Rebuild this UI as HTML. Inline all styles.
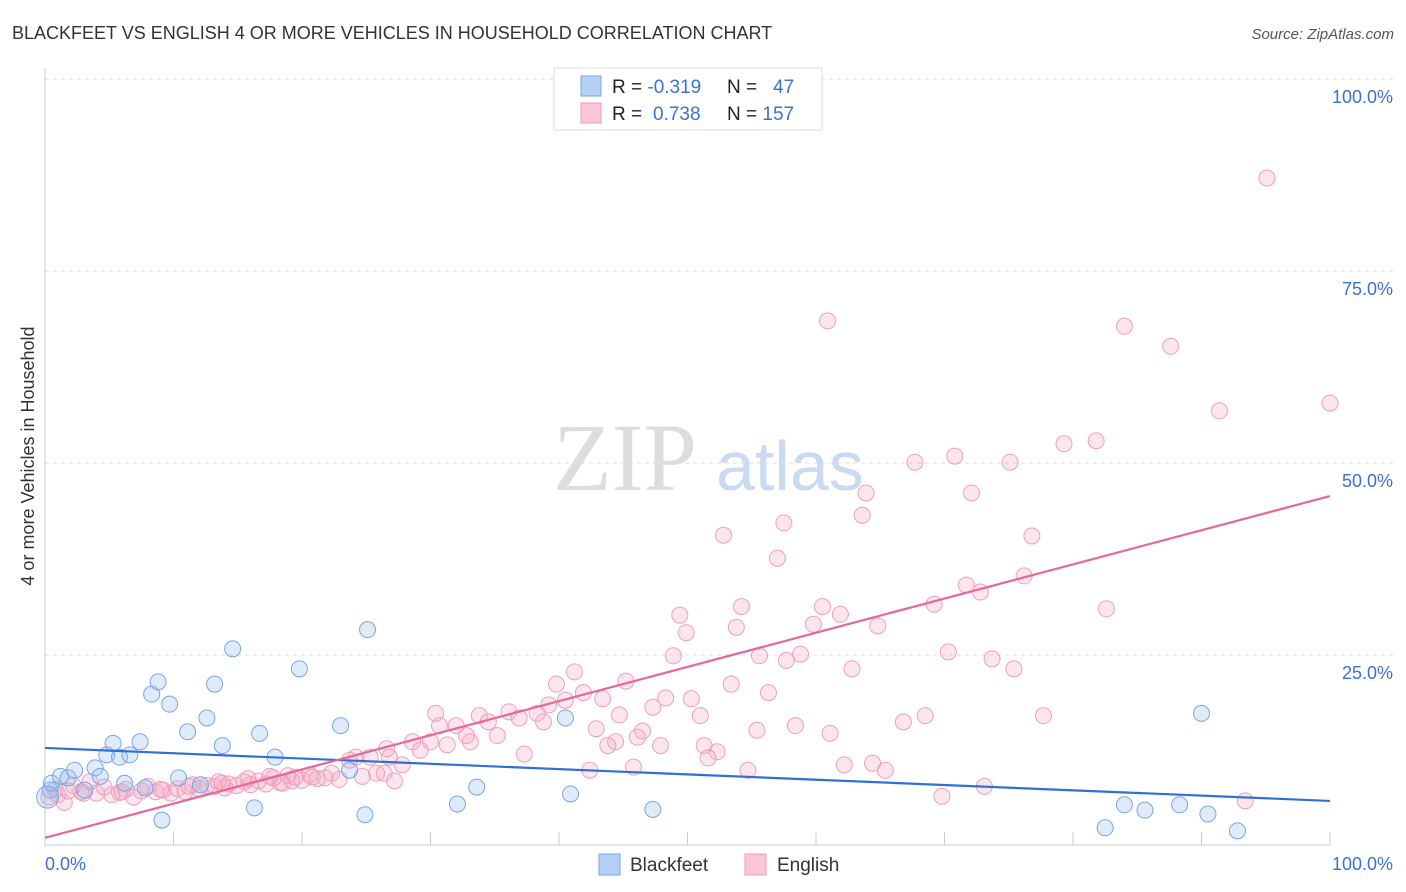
<!DOCTYPE html>
<html><head><meta charset="utf-8">
<style>
body{margin:0;background:#fff;font-family:"Liberation Sans",sans-serif;}
#wrap{position:relative;width:1406px;height:892px;overflow:hidden;}
</style></head>
<body>
<div id="wrap">
<svg id="chart" width="1406" height="892">
<text x="12" y="39" font-size="18" fill="#333">BLACKFEET VS ENGLISH 4 OR MORE VEHICLES IN HOUSEHOLD CORRELATION CHART</text>
<text x="1394" y="39" font-size="15" fill="#555" font-style="italic" text-anchor="end">Source: ZipAtlas.com</text>
<text transform="translate(34,456) rotate(-90)" font-size="18" fill="#333" text-anchor="middle">4 or more Vehicles in Household</text>
<text x="553" y="490" font-size="96" fill="#ddd" font-family="Liberation Serif,serif">ZIP</text>
<text x="716" y="490" font-size="70" fill="#c9daf2">atlas</text>
<g id="grid"></g><g id="pts"></g><g id="lines"></g>
<g>
<rect x="554" y="68" width="268" height="62" fill="#fff" stroke="#ddd"/>
<rect x="581" y="76" width="20" height="20" fill="#b5d0f5" stroke="#7aa6e6"/>
<rect x="581" y="103" width="20" height="20" fill="#fac5d5" stroke="#ee9cb8"/>
<text x="612" y="93" font-size="19" fill="#222">R = <tspan fill="#3a72d0">-0.319</tspan></text>
<text x="727" y="93" font-size="19" fill="#222">N = <tspan fill="#3a72d0" x="773">47</tspan></text>
<text x="612" y="120" font-size="19" fill="#222">R = <tspan fill="#3a72d0" x="653">0.738</tspan></text>
<text x="727" y="120" font-size="19" fill="#222">N = <tspan fill="#3a72d0">157</tspan></text>
</g>
<g>
<rect x="599" y="854" width="21" height="21" fill="#b5d0f5" stroke="#7aa6e6"/>
<text x="630" y="871" font-size="19" fill="#333">Blackfeet</text>
<rect x="745" y="854" width="21" height="21" fill="#fac5d5" stroke="#ee9cb8"/>
<text x="777" y="871" font-size="19" fill="#333">English</text>
</g>
</svg>
</div>
<script>
const yTicks=[25,50,75,100];
const xTickLabels=["0.0%","100.0%"];
const blueX=[0.4,0.5,1.2,1.8,2.3,3.1,3.9,4.3,4.8,5.3,5.8,6.2,6.6,7.4,7.8,8.3,8.8,9.1,9.7,10.4,11.1,12.1,12.6,13.2,13.8,14.6,16.3,16.7,17.9,19.8,23.0,23.7,24.9,25.1,32.1,33.6,40.5,40.9,47.3,82.5,84.0,85.6,88.3,90.0,90.5,92.8,0.2];
const blueY=[7.4,8.3,9.2,9.0,10.0,7.4,10.3,9.2,12.0,13.5,11.7,8.3,12.0,13.7,7.7,19.9,21.5,3.5,18.6,9.0,15.0,8.1,16.8,21.2,13.2,25.8,5.1,14.8,11.7,23.2,15.8,10.0,4.2,28.3,5.6,7.8,16.8,6.9,4.9,2.5,5.5,4.8,5.5,17.4,4.3,2.1,6.5];
const pinkX=[95.1,60.9,84.0,87.6,91.4,100,79.3,81.8,67.7,70.8,75.1,63.9,72.1,63.6,57.5,52.8,76.8,57.0,76.2,71.7,72.8,69.2,82.6,54.2,60.5,49.4,61.9,59.8,53.8,64.8,49.9,70.3,58.8,55.6,57.7,73.7,48.9,62.8,75.4,41.2,45.2,39.8,53.4,41.9,43.4,48.3,50.3,56.3,40.5,47.3,39.2,36.1,30.4,33.8,38.3,44.7,51.0,68.5,77.7,66.8,34.5,36.9,38.8,30.7,32.0,42.9,55.4,58.4,61.1,46.5,32.8,35.2,46.1,30.0,28.6,31.3,33.1,44.4,43.8,47.9,51.3,52.3,51.6,37.3,29.2,26.6,25.3,24.2,23.7,27.8,26.8,45.8,42.4,54.7,62.2,64.4,65.4,25.8,26.4,24.7,27.2,69.8,73.1,93.4,
0.3,0.8,1.5,2.2,2.8,3.5,4.0,4.6,5.2,5.8,6.3,6.9,7.5,8.0,8.6,9.2,9.8,10.3,10.9,11.5,12.0,12.6,13.2,13.8,14.3,14.9,15.5,16.0,16.6,17.2,17.8,18.3,18.9,19.5,20.0,20.6,21.2,21.8,22.3,22.9,11.2,13.5,15.8,17.5,19.2,20.8,3.0,6.0,9.0,1.0,1.8,14.0,18.5];
const pinkY=[87.1,68.5,67.8,65.2,56.8,57.8,52.5,52.9,50.1,50.9,50.1,46.1,46.1,43.2,42.2,40.6,40.5,37.6,35.3,34.1,33.2,31.6,31.0,31.3,31.3,30.2,30.3,29.0,28.6,28.8,27.9,25.4,25.1,24.9,24.3,24.5,24.9,23.2,23.2,22.8,21.6,21.2,21.2,20.1,19.3,19.4,19.3,20.1,19.1,18.2,18.5,17.6,17.4,17.1,17.4,17.2,17.1,17.1,17.1,16.3,16.3,16.8,16.3,15.8,15.8,15.4,15.2,15.8,14.8,15.1,14.5,14.5,14.3,13.7,13.7,13.3,13.7,13.7,13.2,13.2,13.2,12.4,11.6,12.1,12.6,12.8,11.7,11.7,11.3,10.7,11.7,10.4,10.0,10.0,10.7,10.9,10.0,9.6,9.6,9.2,8.6,6.6,7.9,6.0,
6.5,7.5,5.8,8.0,7.2,8.5,7.0,7.8,6.8,7.1,7.5,6.5,7.3,7.9,7.2,7.4,7.0,7.6,7.2,8.1,7.6,8.0,7.9,8.3,8.2,8.0,8.5,8.1,8.6,8.2,9.0,8.4,9.3,9.1,8.7,9.4,8.9,9.0,9.6,8.8,7.9,8.5,8.9,9.2,8.6,9.1,7.0,7.2,7.5,6.8,7.3,7.7,8.3];
const blueTrend=[12.9,6.0];
const pinkTrend=[1.2,45.7];

const NS="http://www.w3.org/2000/svg";
const X0=45,X1=1330,Y0=847,Y100=79;
const sx=v=>X0+(X1-X0)*v/100;
const sy=v=>Y0-(Y0-Y100)*v/100;
function mk(tag,attrs,parent){const e=document.createElementNS(NS,tag);for(const k in attrs)e.setAttribute(k,attrs[k]);parent.appendChild(e);return e;}
const grid=document.getElementById('grid');
yTicks.forEach(t=>{
  const l=mk('line',{x1:X0,x2:1394,y1:sy(t),y2:sy(t),stroke:'#ddd','stroke-dasharray':'4,4'},grid);
  
  
  const tx=mk('text',{x:1393,y:sy(t)+24,'font-size':18,fill:'#3a72d0','text-anchor':'end'},grid);
  tx.textContent=t.toFixed(1)+'%';
  
  
});
const ax=mk('line',{x1:X0,x2:X0,y1:68,y2:847,stroke:'#ccc'},grid);


const xa=mk('line',{x1:X0,x2:X1,y1:845,y2:845,stroke:'#ccc'},grid);


for(let i=0;i<=10;i++){
  const t=mk('line',{x1:sx(i*10),x2:sx(i*10),y1:832,y2:845,stroke:'#ccc'},grid);
  
  
}
[[0,'start',45],[100,'end',1393]].forEach((d,i)=>{
  const tx=mk('text',{x:d[2],y:870,'font-size':18,fill:'#3a72d0','text-anchor':d[1]},grid);
  tx.textContent=xTickLabels[i];
  
  
});
const pts=document.getElementById('pts');
pinkX.forEach((x,i)=>{
  const c=mk('circle',{cx:sx(x),cy:sy(pinkY[i]),r:8,fill:'rgba(245,170,195,0.3)',stroke:'#ef9fbb','stroke-width':1},pts);
  
  
});
blueX.forEach((x,i)=>{
  const c=mk('circle',{cx:sx(x),cy:sy(blueY[i]),r:i==blueX.length-1?11:8,fill:'rgba(150,190,240,0.3)',stroke:'#78a6e4','stroke-width':1},pts);
  
  
});
const lines=document.getElementById('lines');
const bl=mk('line',{x1:sx(0),y1:sy(blueTrend[0]),x2:sx(100),y2:sy(blueTrend[1]),stroke:'#2f6fd6','stroke-width':2.2},lines);


const pl=mk('line',{x1:sx(0),y1:sy(pinkTrend[0]),x2:sx(100),y2:sy(pinkTrend[1]),stroke:'#e8679a','stroke-width':2.2},lines);


</script>
</body></html>
